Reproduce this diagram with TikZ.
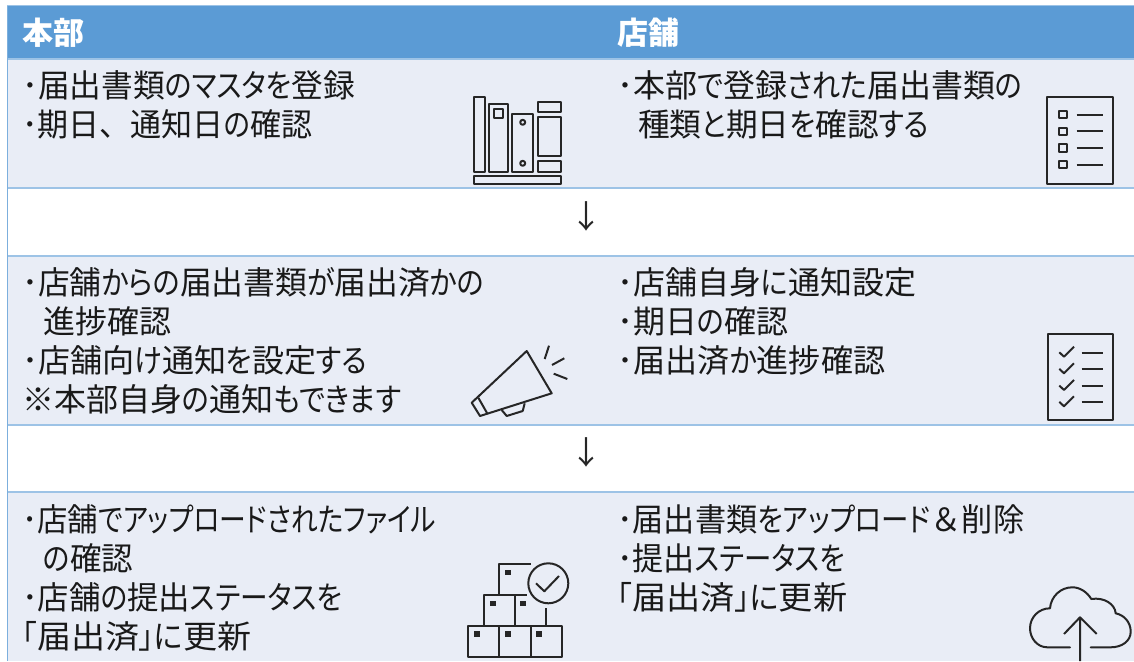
\documentclass[tikz,border=0pt]{standalone}
\usepackage{graphicx}
\usepackage{fontspec}
\newfontfamily\jpfont{Noto Sans CJK JP}
\newfontfamily\kanafont[RawFeature=+palt,FakeStretch=0.88]{Noto Sans CJK JP}
\newcommand{\kn}[1]{{\kanafont #1}}
\newcommand{\fl}[2]{\resizebox{#1pt}{\height}{#2}}
\definecolor{headblue}{HTML}{5B9BD5}
\definecolor{rowblue}{HTML}{E9EDF6}
\definecolor{ruleblue}{HTML}{9DC3E6}
\tikzset{
    headtext/.style={anchor=west,inner sep=0pt,text=white,font=\jpfont\bfseries\fontsize{31}{36}\selectfont},
    celltext/.style={anchor=north west,inner sep=0pt,align=left,text=black!90,font=\jpfont\fontsize{32}{39}\selectfont},
    downmark/.style={inner sep=0pt,text=black!85,font=\jpfont\fontsize{32}{38}\selectfont},
    icon/.style={draw=black!85,line width=2pt,line join=round}
}
\begin{document}
\begin{tikzpicture}[x=1pt,y=-1pt]
    \useasboundingbox (0,0) rectangle (1134,661);
    \fill[white] (0,0) rectangle (1134,661);

    % bands
    \fill[headblue] (7,6) rectangle (1134,59);
    \fill[rowblue] (7,59) rectangle (1134,188);
    \fill[rowblue] (7,256) rectangle (1134,425);
    \fill[rowblue] (7,492) rectangle (1134,661);
    \draw[ruleblue,line width=1.5pt] (7,59) -- (1134,59) (7,188) -- (1134,188) (7,256) -- (1134,256)
        (7,425) -- (1134,425) (7,492) -- (1134,492);
    \draw[ruleblue,line width=1pt] (7,6) -- (1134,6);
    \draw[headblue!80,line width=1.5pt] (7.5,6) -- (7.5,661);

    % texts
    \node[headtext] (honbu) at (22,33) {本部};
    \node[headtext] (tenpo) at (617,33) {店舗};
    \node[celltext] (a1) at (22,70) {\fl{333}{･届出書類\kn{のマスタを}登録}\\\fl{290}{･期日、通知日\kn{の}確認}};
    \node[celltext] (b1) at (617,70) {\fl{405}{･本部\kn{で}登録\kn{された}届出書類\kn{の}}\\\hspace*{21pt}\fl{291}{種類\kn{と}期日\kn{を}確認\kn{する}}};
    \node[celltext] (a2) at (22,267) {\fl{462}{･店舗\kn{からの}届出書類\kn{が}届出済\kn{かの}}\\\hspace*{21pt}\fl{128}{進捗確認}\\\fl{345}{･店舗向\kn{け}通知\kn{を}設定\kn{する}}\\\fl{379}{※本部自身\kn{の}通知\kn{もできます}}};
    \node[celltext] (b2) at (617,267) {\fl{299}{･店舗自身\kn{に}通知設定}\\\fl{171}{･期日\kn{の}確認}\\\fl{268}{･届出済\kn{か}進捗確認}};
    \node[celltext] (a3) at (22,504) {\fl{414}{･店舗\kn{でアップロードされたファイル}}\\\hspace*{21pt}\fl{90}{\kn{の}確認}\\\fl{320}{･店舗\kn{の}提出\kn{ステータスを}}\\\fl{229}{\kn{「}届出済\kn{」に}更新}};
    \node[celltext] (b3) at (617,504) {\fl{407}{･届出書類\kn{をアップロード}＆削除}\\\fl{228}{･提出\kn{ステータスを}}\\\fl{230}{\kn{「}届出済\kn{」に}更新}};
    \node[downmark] (down1) at (586,216) {↓};
    \node[downmark] (down2) at (586,452) {↓};

    % books
    \draw[icon] (473.5,96.7) rectangle (484.5,171.7);
    \draw[icon] (489,104) rectangle (507.7,171.7);
    \draw[icon] (494.3,109.3) rectangle (502.7,118);
    \draw[icon] (512,114.3) rectangle (533.3,171.7);
    \draw[icon] (522.7,122.3) circle (2.5);
    \draw[icon] (522.7,163.3) circle (2.5);
    \draw[icon] (537.7,102) rectangle (561.3,112.3);
    \draw[icon] (537.7,117.3) rectangle (561.3,156);
    \draw[icon] (537.7,161) rectangle (561.3,171.7);
    \draw[icon] (473.5,176) rectangle (561.3,184.3);

    % list
    \draw[icon] (1047.3,96.7) rectangle (1112.7,184);
    \foreach \y in {114.7,131.3,148,164.7} {
        \draw[icon] (1059,\y-3.7) rectangle (1066.5,\y+3.7);
        \draw[icon] (1076.7,\y) -- (1102.7,\y);
    }

    % megaphone
    \draw[icon] (471.7,402.7) -- (526.7,351) -- (551.7,393.3) -- (480,416) -- cycle;
    \draw[icon] (478.3,397.7) -- (487.3,413.5);
    \draw[icon] (501.7,410) -- (506.7,416) -- (522.7,411) -- (524.7,403.3);
    \draw[icon] (544.7,359) -- (549,345.7) (552,365) -- (564.3,358.3) (553.7,373.7) -- (567.3,379);

    % checklist
    \draw[icon] (1048.3,334) rectangle (1113,420);
    \foreach \y in {352.7,369.3,386,402.3} {
        \draw[icon] (1059.3,\y-0.4) -- (1064,\y+4) -- (1074,\y-6);
        \draw[icon] (1081.7,\y) -- (1102.7,\y);
    }

    % boxes
    \draw[icon] (468.3,626) rectangle (561.7,657.3);
    \draw[icon] (499.3,626) -- (499.3,657.3) (530.7,626) -- (530.7,657.3);
    \draw[icon] (484,626) -- (484,595) -- (527,595);
    \draw[icon] (515,595) -- (515,626) (545.7,608.3) -- (545.7,626);
    \draw[icon] (499.3,595) -- (499.3,564) -- (531,564);
    \draw[icon] (548.3,583.3) circle (20);
    \draw[icon] (536,583.3) -- (544.3,591.3) -- (559,576);
    \foreach \x/\y in {508.3/572.7,492.7/603.3,523.3/603.3,477.3/634,508.3/634,538.7/634}
        \fill[black!85] (\x-3,\y-2.7) rectangle (\x+3,\y+2.7);

    % cloud
    \draw[icon,line cap=round] (1070,647.3) -- (1047.3,647.3) .. controls (1037,647.3) and (1030,638) .. (1030,628.3)
        .. controls (1030,617) and (1039,608.3) .. (1050,608.3)
        .. controls (1051,596) and (1061,587.3) .. (1072.3,587.3)
        .. controls (1080,587.3) and (1087,592) .. (1091.3,599)
        .. controls (1104,597) and (1115,604) .. (1115.7,613.3)
        .. controls (1124,615) and (1130.7,622) .. (1130.7,631.7)
        .. controls (1130.7,641) and (1122,647.3) .. (1110.7,647.3) -- (1090.7,647.3);
    \draw[icon] (1080,617.3) -- (1080,661) (1064,634) -- (1080,617.3) -- (1096.7,634);
\end{tikzpicture}
\end{document}
